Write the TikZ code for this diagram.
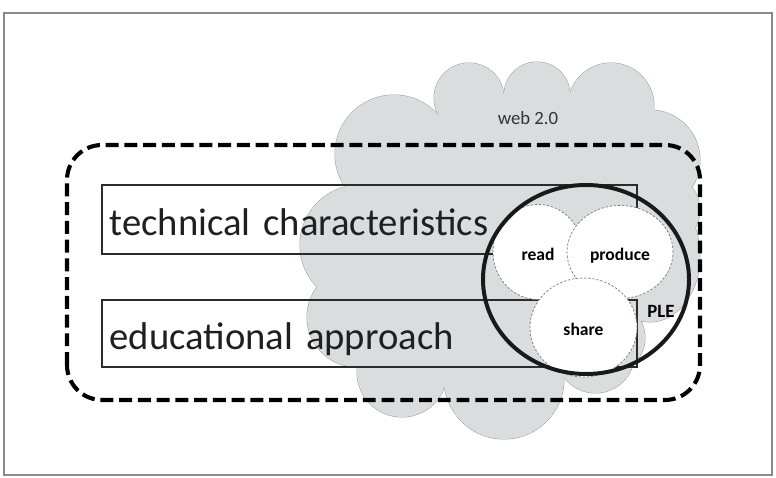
\documentclass[tikz,border=0pt]{standalone}
\usepackage{fontspec}
\setmainfont{Carlito}
\usetikzlibrary{shapes.geometric}
\definecolor{cloudFill}{HTML}{D9DDDD}
\definecolor{cloudLine}{HTML}{9A9A9A}
\definecolor{frameGray}{HTML}{8C8C8C}
\definecolor{boxLine}{HTML}{2B2B2B}
\definecolor{bubbleLine}{HTML}{777777}

\tikzset{
  topicbox/.style={draw=boxLine,line width=1.2pt,minimum width=16.05cm,minimum height=#1,
    inner xsep=6.5pt,text width=15.59cm,align=left,text height=27pt,text depth=0pt,
    font=\fontsize{33}{39}\selectfont,text=black!88},
  bubble/.style={ellipse,draw=bubbleLine,fill=white,line width=0.6pt,dash pattern=on 2pt off 1.5pt,
    inner sep=0pt,text height=14pt,text depth=0pt,font=\bfseries\fontsize{15}{18}\selectfont},
  groupframe/.style={line width=3.5pt,dash pattern=on 11pt off 5pt,rounded corners=1.05cm},
}

\begin{document}
\begin{tikzpicture}[x=0.03cm,y=0.03cm]
\useasboundingbox (0,0) rectangle (776,478);
\draw[frameGray,line width=1.5pt] (4,3) rectangle (772,465);
% web 2.0 cloud: puffs with rims, then filled again so only the outer rim stays
\def\puffs{394/324/59/59,469/380/35/35,537/383/33/33,611/372/43/43,650/318/50/50,664/268/36/36,
  650/222/50/66,610/140/35/35,595.5/124/39/39,504/99/60/60,402/106/45/45,357/161/50/50,360/233/60/60}
\foreach \cx/\cy/\rx/\ry in \puffs
  \filldraw[fill=cloudFill,draw=cloudLine,line width=0.8pt] (\cx,\cy) ellipse [x radius=\rx,y radius=\ry];
\fill[cloudFill] (394,324) -- (469,380) -- (537,383) -- (611,372) -- (650,318) -- (664,268)
  -- (650,222) -- (610,140) -- (595.5,124) -- (504,99) -- (402,106) -- (357,161) -- (360,233) -- cycle;
\foreach \cx/\cy/\rx/\ry in \puffs
  \fill[cloudFill] (\cx,\cy) ellipse [x radius=\rx,y radius=\ry];
\node[font=\fontsize{16}{19}\selectfont,text=black!80] (web) at (528,360) {web 2.0};

\draw[groupframe] (67,78) rectangle (700,333);

\node[topicbox=2.07cm] (tech) at (369.5,258.5) {technical characteristics};
\node[topicbox=2.01cm] (edu) at (369.5,144.5) {educational approach};

\node[bubble,minimum width=2.7cm,minimum height=2.85cm] (read) at (538,226) {read};
\node[bubble,minimum width=3.18cm,minimum height=2.79cm] (produce) at (620,226) {produce};
\node[bubble,minimum width=3.21cm,minimum height=2.97cm] (share) at (583.5,150.5) {share};

\node[ellipse,draw=black!90,line width=3.4pt,minimum width=6.18cm,minimum height=5.67cm] (ple) at (586,198.5) {};
\node[font=\bfseries\fontsize{16}{19}\selectfont] (plelabel) at (661,167) {PLE};
\end{tikzpicture}
\end{document}
